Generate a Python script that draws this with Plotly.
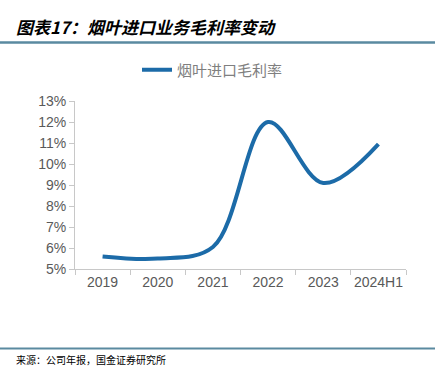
import plotly.graph_objects as go

categories = ["2019", "2020", "2021", "2022", "2023", "2024H1"]
margin_rate = [5.6, 5.5, 6.05, 12.0, 9.1, 10.95]
y_ticks = [5, 6, 7, 8, 9, 10, 11, 12, 13]
y_tick_text = [f"{v}%" for v in y_ticks]
series_name = "烟叶进口毛利率"
title_text = "图表17：烟叶进口业务毛利率变动"
source_text = "来源：公司年报，国金证券研究所"

W, H = 440, 367
L, R, T, B = 75, 34, 101, 98
pw = W - L - R
ph = H - T - B

def px_x(p):
    return (p - L) / pw

def px_y(p):
    return (H - B - p) / ph

fig = go.Figure()
fig.add_trace(go.Scatter(
    x=categories, y=margin_rate, mode="lines", name=series_name,
    line=dict(color="#1c6ba8", width=4, shape="spline", smoothing=1.0),
))

axis_gray = "#c8c8c8"
tick_font = dict(family="Liberation Sans, Arial, sans-serif", size=14, color="#595959")

fig.update_layout(
    width=W, height=H, autosize=False,
    margin=dict(l=L, r=R, t=T, b=B, autoexpand=False),
    paper_bgcolor="white", plot_bgcolor="white",
    showlegend=True,
    legend=dict(
        orientation="h", x=px_x(137), xanchor="left", y=px_y(70), yanchor="middle",
        font=dict(family="Noto Sans CJK SC", size=15, color="#7f7f7f"),
        bgcolor="rgba(0,0,0,0)", borderwidth=0,
    ),
    xaxis=dict(
        type="category", tickson="boundaries", showgrid=False,
        showline=True, linecolor=axis_gray, linewidth=1,
        ticks="outside", ticklen=5, tickcolor=axis_gray, tickangle=0,
        tickfont=tick_font, range=[-0.5, 5.5], fixedrange=True, automargin=False,
    ),
    yaxis=dict(
        range=[5, 13], tickmode="array", tickvals=y_ticks, ticktext=y_tick_text,
        showgrid=False,
        showline=True, linecolor=axis_gray, linewidth=1,
        ticks="outside", ticklen=5, tickcolor=axis_gray,
        tickfont=tick_font, zeroline=False, fixedrange=True, automargin=False,
    ),
)

fig.add_shape(type="line", xref="paper", yref="paper",
              x0=px_x(0), x1=px_x(435), y0=px_y(42.5), y1=px_y(42.5),
              line=dict(color="#5a8aa0", width=2.5))
fig.add_shape(type="line", xref="paper", yref="paper",
              x0=px_x(0), x1=px_x(435), y0=px_y(348.5), y1=px_y(348.5),
              line=dict(color="#5a8aa0", width=2))

fig.add_annotation(
    xref="paper", yref="paper", x=px_x(14), y=px_y(26), xanchor="left", yanchor="middle",
    text="<b><i>" + title_text + "</i></b>", showarrow=False,
    font=dict(family="Noto Sans CJK SC", size=17, color="#000000"),
)
fig.add_annotation(
    xref="paper", yref="paper", x=px_x(14), y=px_y(359.5), xanchor="left", yanchor="middle",
    text=source_text, showarrow=False,
    font=dict(family="Noto Sans CJK SC", size=10, color="#000000"),
)

fig.write_html(
    "out.html",
    config={"displayModeBar": False},
    post_script="document.body.style.margin='0';document.body.style.padding='0';",
)
